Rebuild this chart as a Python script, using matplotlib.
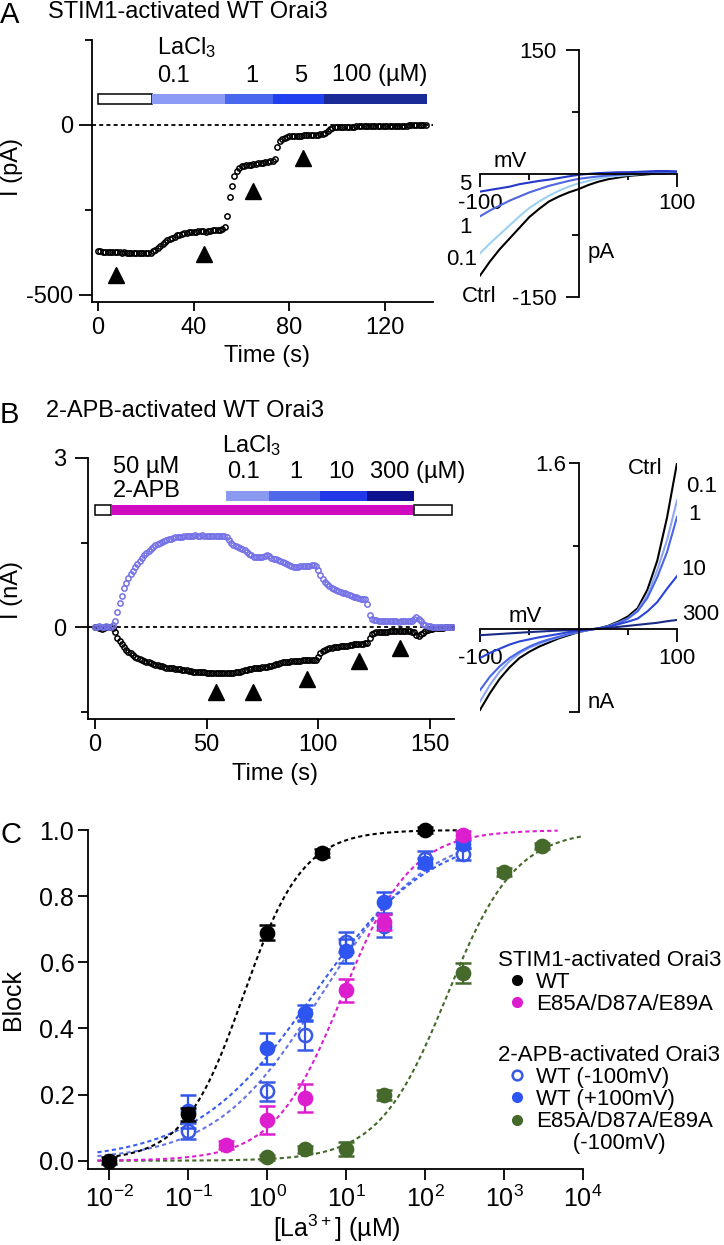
import numpy as np
import matplotlib
matplotlib.use('Agg')
import matplotlib.pyplot as plt
from matplotlib.lines import Line2D
from matplotlib.ticker import NullLocator

plt.rcParams['font.family'] = ['Liberation Sans', 'DejaVu Sans']
plt.rcParams['mathtext.fontset'] = 'custom'
plt.rcParams['mathtext.rm'] = 'Liberation Sans'
plt.rcParams['mathtext.it'] = 'Liberation Sans:italic'
plt.rcParams['mathtext.bf'] = 'Liberation Sans:bold'
plt.rcParams['axes.unicode_minus'] = False
plt.rcParams['axes.linewidth'] = 1.3

# ---------------- Panel A data ----------------
current_a = [-370, -372, -373, -373, -374, -374, -375, -374, -375, -375, -376, -375, -376, -376, -376, -377,
             -376, -377, -377, -376, -377, -377, -376,
             -372, -368, -362, -355, -349, -344, -339, -335, -331, -328, -325, -323, -321, -319, -318, -316,
             -315, -314, -314, -313, -313, -312, -315, -312, -311, -310, -309, -309, -308, -307, -300,
             -268, -213, -178, -150, -135, -127,
             -122, -120, -119, -118, -117, -115, -114, -113, -112, -111, -110, -109, -107, -105, -100,
             -64, -48, -40, -37, -35,
             -33, -33, -32, -32, -31, -31, -30, -30, -30, -29, -29, -28, -28, -27, -27, -24,
             -18, -12, -9, -7,
             -6, -6, -6, -5, -5, -5, -5, -5, -4, -4,
             -4, -4, -4, -4, -4, -3, -3, -3, -3, -3,
             -3, -3, -3, -2, -2, -2, -2, -2, -2, -2,
             -1, -1, -1, -1, -1, -1, 0, 0]
sample_interval_a = 1.0  # s
arrow_time_a = [7.4, 44.4, 65.0, 85.5]
arrow_level_a = [-441, -380, -193, -96]
la_edges_a = [0, 22.6, 53.0, 73.0, 94.5, 137.5]
la_colors_a = ['white', '#8c9cf6', '#4a68ee', '#2040f0', '#1a2b98']
la_labels_a = ['0.1', '1', '5', '100 (µM)']

iv_mv = [-100, -90, -80, -70, -60, -50, -40, -30, -20, -10, 0, 10, 20, 30, 40, 50, 60, 70, 80, 90, 100]
iv_a_ctrl = [-124, -107, -92, -79, -66, -53, -43, -34, -28, -23, -19, -14, -10, -7, -5, -3, -2, -1, 0, 0.5, 1]
iv_a_01 = [-97, -85, -74, -63, -52, -42, -34, -27, -21, -16, -12, -9, -6, -4, -3, -2, -1, 0, 0, 1, 1]
iv_a_1 = [-52, -45, -39, -33, -28, -23, -19, -15, -12, -9, -6.5, -5, -3.5, -2.5, -1.5, -1, 0, 0.5, 1, 1.5, 2]
iv_a_5 = [-22, -20, -18, -16, -13, -11, -9, -7.5, -5.5, -3.5, -1.6, -0.5, 0.5, 1, 1.5, 1.6, 2, 2.5, 3, 3, 2.5]

# ---------------- Panel B data ----------------
outward_b = [0.00, 0.00, 0.01, 0.00, 0.00, 0.01, 0.00, 0.00, 0.03, 0.10,
             0.27, 0.43, 0.55, 0.69, 0.78, 0.87, 0.94, 1.00, 1.06, 1.11,
             1.17, 1.22, 1.27, 1.31, 1.35, 1.39, 1.42, 1.45, 1.47, 1.49,
             1.51, 1.53, 1.55, 1.56, 1.57, 1.58, 1.59, 1.59, 1.60, 1.60,
             1.61, 1.61, 1.62, 1.62, 1.62, 1.63, 1.62, 1.62, 1.63, 1.62,
             1.62, 1.62, 1.61, 1.62, 1.61, 1.61, 1.62, 1.61, 1.61, 1.60,
             1.55, 1.50, 1.46, 1.44, 1.42, 1.40, 1.38, 1.36, 1.33, 1.30,
             1.27, 1.25, 1.24, 1.24, 1.24, 1.25, 1.26, 1.28, 1.26, 1.23,
             1.21, 1.20, 1.19, 1.18, 1.16, 1.14, 1.12, 1.10, 1.08, 1.07,
             1.07, 1.07, 1.08, 1.08, 1.08, 1.09, 1.09, 1.10, 1.10, 1.09,
             1.02, 0.93, 0.86, 0.80, 0.76, 0.73, 0.70, 0.68, 0.66, 0.64,
             0.62, 0.61, 0.60, 0.58, 0.56, 0.55, 0.54, 0.53, 0.52, 0.50,
             0.49, 0.50, 0.40, 0.22, 0.15, 0.13, 0.12, 0.11, 0.11, 0.10,
             0.10, 0.10, 0.10, 0.10, 0.10, 0.10, 0.09, 0.10, 0.10, 0.10,
             0.10, 0.11, 0.11, 0.14, 0.18, 0.15, 0.10, 0.06, 0.03, 0.02,
             0.01, 0.00, 0.00, 0.00, 0.00, 0.00, 0.00, 0.00, 0.00, 0.00, 0.00]
inward_b = [0.00, 0.00, -0.01, -0.04, -0.02, 0.00, 0.00, 0.00, -0.02, -0.08,
            -0.19, -0.25, -0.30, -0.36, -0.40, -0.44, -0.47, -0.50, -0.53, -0.55,
            -0.57, -0.59, -0.60, -0.62, -0.63, -0.64, -0.66, -0.67, -0.68, -0.69,
            -0.70, -0.71, -0.72, -0.72, -0.73, -0.73, -0.74, -0.75, -0.75, -0.76,
            -0.77, -0.77, -0.78, -0.78, -0.79, -0.79, -0.79, -0.80, -0.80, -0.80,
            -0.81, -0.81, -0.81, -0.82, -0.82, -0.82, -0.82, -0.82, -0.82, -0.82,
            -0.82, -0.81, -0.81, -0.80, -0.80, -0.79, -0.78, -0.77, -0.76, -0.75,
            -0.74, -0.73, -0.73, -0.72, -0.72, -0.71, -0.71, -0.71, -0.70, -0.69,
            -0.67, -0.66, -0.65, -0.64, -0.63, -0.63, -0.62, -0.62, -0.61, -0.61,
            -0.60, -0.60, -0.60, -0.59, -0.59, -0.59, -0.59, -0.58, -0.58, -0.58,
            -0.54, -0.47, -0.43, -0.41, -0.39, -0.38, -0.37, -0.36, -0.35, -0.35,
            -0.34, -0.34, -0.33, -0.33, -0.32, -0.32, -0.31, -0.31, -0.30, -0.30,
            -0.30, -0.29, -0.29, -0.20, -0.13, -0.10, -0.09, -0.09, -0.08, -0.08,
            -0.08, -0.08, -0.07, -0.07, -0.07, -0.07, -0.07, -0.07, -0.07, -0.07,
            -0.07, -0.07, -0.08, -0.09, -0.14, -0.16, -0.13, -0.10, -0.07, -0.05,
            -0.04, -0.03, -0.02, -0.02, -0.01, -0.01, -0.01, 0.00, 0.00, 0.00, 0.00]
sample_interval_b = 1.0
arrow_time_b = [54.2, 70.8, 95.0, 118.3, 136.6]
arrow_level_b = [-1.15, -1.15, -0.92, -0.60, -0.37]
apb_edges_b = [0, 7, 143, 160]
apb_colors_b = ['white', '#cf0cbf', 'white']
la_edges_b = [58.6, 77.8, 100.7, 122.0, 143.0]
la_colors_b = ['#8a9af0', '#4f6ae8', '#2238e8', '#0d138f']
la_labels_b = ['0.1', '1', '10', '300 (µM)']

iv_b_ctrl = [-0.78, -0.62, -0.48, -0.37, -0.28, -0.22, -0.17, -0.13, -0.09, -0.06, -0.03, -0.01, 0.005, 0.03, 0.07, 0.12, 0.20, 0.38, 0.66, 1.08, 1.60]
iv_b_01 = [-0.70, -0.54, -0.41, -0.31, -0.235, -0.18, -0.145, -0.11, -0.08, -0.05, -0.03, -0.01, 0.005, 0.025, 0.06, 0.10, 0.18, 0.33, 0.57, 0.86, 1.24]
iv_b_1 = [-0.59, -0.46, -0.36, -0.28, -0.22, -0.17, -0.13, -0.10, -0.074, -0.05, -0.025, -0.01, 0.005, 0.025, 0.055, 0.10, 0.17, 0.30, 0.50, 0.745, 1.08]
iv_b_10 = [-0.28, -0.23, -0.19, -0.15, -0.12, -0.10, -0.08, -0.064, -0.048, -0.03, -0.016, -0.005, 0.005, 0.02, 0.045, 0.07, 0.10, 0.17, 0.26, 0.39, 0.51]
iv_b_300 = [-0.06, -0.054, -0.048, -0.042, -0.036, -0.03, -0.025, -0.02, -0.015, -0.012, -0.008, -0.003, 0.003, 0.01, 0.02, 0.03, 0.04, 0.05, 0.06, 0.075, 0.087]

# ---------------- Panel C data ----------------
conc_stim_wt = [0.01, 0.1, 1, 5, 100]
block_stim_wt = [0.0, 0.14, 0.69, 0.93, 1.0]
err_stim_wt = [0.01, 0.02, 0.022, 0.012, 0.008]

conc_stim_mut = [0.3, 1, 3, 10, 30, 300]
block_stim_mut = [0.048, 0.123, 0.19, 0.515, 0.722, 0.985]
err_stim_mut = [0.012, 0.043, 0.042, 0.035, 0.025, 0.012]

conc_apb_wt = [0.1, 1, 3, 10, 30, 100, 300]
block_apb_wt_neg = [0.09, 0.21, 0.38, 0.662, 0.71, 0.911, 0.927]
err_apb_wt_neg = [0.024, 0.028, 0.045, 0.03, 0.035, 0.024, 0.018]
block_apb_wt_pos = [0.15, 0.34, 0.447, 0.634, 0.782, 0.90, 0.958]
err_apb_wt_pos = [0.05, 0.047, 0.023, 0.035, 0.032, 0.015, 0.012]

conc_apb_mut = [1, 3, 10, 30, 300, 1000, 3000]
block_apb_mut = [0.01, 0.034, 0.036, 0.20, 0.567, 0.874, 0.952]
err_apb_mut = [0.008, 0.01, 0.022, 0.015, 0.03, 0.012, 0.01]

# Hill fit parameters: (IC50 uM, Hill coefficient, log10 range start, log10 range end)
fit_stim_wt = (0.5, 1.15, -2.0, 2.48)
fit_stim_mut = (9.0, 1.0, -2.15, 3.68)
fit_apb_wt_neg = (4.8, 0.65, -2.15, 2.48)
fit_apb_wt_pos = (3.8, 0.58, -2.15, 2.48)
fit_apb_mut = (190.0, 1.0, -2.15, 4.0)

c_black = 'black'
c_mag = '#dd1ecf'
c_blue = '#2f55f0'
c_blue_open = '#3a5ae6'
c_green = '#44692a'

FS = 17      # main text size (panels A, B)
FS_IV = 16   # I-V insets
FS_C = 18    # panel C axes
FS_LEG = 16  # panel C legend

# ---------------- Figure ----------------
W, H = 724, 1245
fig = plt.figure(figsize=(W / 100, H / 100), dpi=100)
fig.patch.set_facecolor('white')


def axes_px(l, t, r, b):
    return fig.add_axes([l / W, 1 - b / H, (r - l) / W, (b - t) / H])


def ftext(x, y, s, size=FS, ha='left', va='baseline', **kw):
    return fig.text(x / W, 1 - y / H, s, fontsize=size, ha=ha, va=va, **kw)


def style_axes(ax):
    ax.spines['top'].set_visible(False)
    ax.spines['right'].set_visible(False)
    ax.set_facecolor('none')


# ===== Panel A : time course =====
axA = axes_px(92, 40, 433, 302)
style_axes(axA)
axA.set_xlim(-2.51, 140.05)
axA.set_ylim(-520.6, 250)
time_a = np.arange(len(current_a)) * sample_interval_a
axA.axhline(0, color='black', lw=1.3, ls=(0, (2.2, 1.8)), zorder=1)
axA.plot(time_a, current_a, 'o', ms=3.8, mfc='none', mec='black', mew=1.1, zorder=3)
axA.plot(arrow_time_a, arrow_level_a, '^', color='black', ms=11, zorder=3)
bar_y_a, bar_h_a = 75.5, 29
axA.barh(bar_y_a, la_edges_a[1] - la_edges_a[0], left=la_edges_a[0], height=bar_h_a,
         color='white', edgecolor='black', linewidth=1.1, clip_on=False)
axA.barh([bar_y_a] * 4, np.diff(la_edges_a[1:]), left=la_edges_a[1:-1], height=bar_h_a,
         color=la_colors_a[1:], edgecolor='none', clip_on=False)
axA.set_yticks([0, -500])
axA.set_yticklabels(['0', '-500'])
axA.set_yticks([250, -250], minor=True)
axA.set_xticks([0, 40, 80, 120])
axA.set_xticklabels(['0', '40', '80', '120'])
axA.tick_params(axis='y', which='major', direction='out', length=9.5, width=1.3, pad=4, labelsize=FS)
axA.tick_params(axis='y', which='minor', direction='out', length=5, width=1.3)
axA.tick_params(axis='x', which='major', direction='out', length=6.5, width=1.3, pad=4, labelsize=FS)

ftext(0, 23, 'A', size=21)
ftext(48, 18, 'STIM1-activated WT Orai3')
ftext(157, 54, 'LaCl$_3$')
ftext(157, 81.5, la_labels_a[0])
ftext(252, 81.5, la_labels_a[1], ha='center')
ftext(301, 81.5, la_labels_a[2], ha='center')
ftext(332, 81.5, la_labels_a[3])
fig.text(12 / W, 1 - 167 / H, 'I (pA)', fontsize=FS, rotation=90, ha='center', va='center')
ftext(267, 362, 'Time (s)', ha='center')

# ===== Panel A : I-V =====
axAi = axes_px(480, 50, 677, 297)
axAi.set_xlim(-100, 100)
axAi.set_ylim(-150, 150)
style_axes(axAi)
axAi.spines['left'].set_position(('data', 0))
axAi.spines['bottom'].set_position(('data', 0))
for vals, col in [(iv_a_ctrl, 'black'), (iv_a_01, '#9fd0f2'), (iv_a_1, '#4f66e0'), (iv_a_5, '#2438c8')]:
    axAi.plot(iv_mv, vals, color=col, lw=1.5)
axAi.set_yticks([150, -150])
axAi.set_yticklabels(['150', '-150'])
axAi.set_yticks([75, -75], minor=True)
axAi.set_xticks([-100, 100])
axAi.set_xticklabels(['-100', '100'])
axAi.set_xticks([-50, 50], minor=True)
axAi.tick_params(axis='y', which='major', direction='out', length=9.5, width=1.3, pad=6, labelsize=FS_IV)
axAi.tick_params(axis='y', which='minor', direction='out', length=5, width=1.3)
axAi.tick_params(axis='x', which='major', direction='out', length=9, width=1.3, pad=5, labelsize=FS_IV)
axAi.tick_params(axis='x', which='minor', direction='out', length=4.5, width=1.3)
ftext(510, 166.7, 'mV', size=FS_IV, ha='center')
ftext(588, 258, 'pA', size=FS_IV)
ftext(471, 190, '5', size=FS_IV, ha='right')
ftext(472, 233, '1', size=FS_IV, ha='right')
ftext(477, 265, '0.1', size=FS_IV, ha='right')
ftext(462, 301.7, 'Ctrl', size=FS_IV)

# ===== Panel B : time course =====
axB = axes_px(88, 458, 454, 719)
style_axes(axB)
axB.set_xlim(-3.13, 160.8)
axB.set_ylim(-1.633, 3.0)
time_b = np.arange(len(inward_b)) * sample_interval_b
axB.axhline(0, color='black', lw=1.3, ls=(0, (2.2, 1.8)), zorder=1)
axB.plot(time_b, inward_b, 'o', ms=3.8, mfc='none', mec='black', mew=1.1, zorder=3)
axB.plot(time_b, outward_b, 'o', ms=3.8, mfc='none', mec='#7472e6', mew=1.1, zorder=4)
axB.plot(arrow_time_b, arrow_level_b, '^', color='black', ms=11, zorder=3)
apb_y, la_y, bh = 2.077, 2.326, 0.178
axB.barh([apb_y] * 3, np.diff(apb_edges_b), left=apb_edges_b[:-1], height=bh,
         color=apb_colors_b, edgecolor=['black', 'none', 'black'], linewidth=1.1, clip_on=False)
axB.barh([la_y] * 4, np.diff(la_edges_b), left=la_edges_b[:-1], height=bh,
         color=la_colors_b, edgecolor='none', clip_on=False)
axB.set_yticks([3, 0])
axB.set_yticklabels(['3', '0'])
axB.set_yticks([1.5, -1.5], minor=True)
axB.set_xticks([0, 50, 100, 150])
axB.set_xticklabels(['0', '50', '100', '150'])
axB.tick_params(axis='y', which='major', direction='out', length=9.5, width=1.3, pad=6, labelsize=FS)
axB.tick_params(axis='y', which='minor', direction='out', length=5, width=1.3)
axB.tick_params(axis='x', which='major', direction='out', length=7, width=1.3, pad=4, labelsize=FS)

ftext(0, 423, 'B', size=21)
ftext(46, 417, '2-APB-activated WT Orai3')
ftext(113, 473, '50 µM')
ftext(113, 497, '2-APB')
ftext(222, 452, 'LaCl$_3$')
ftext(227, 478, la_labels_b[0])
ftext(296, 478, la_labels_b[1], ha='center')
ftext(341, 478, la_labels_b[2], ha='center')
ftext(370, 478, la_labels_b[3])
fig.text(12 / W, 1 - 590 / H, 'I (nA)', fontsize=FS, rotation=90, ha='center', va='center')
ftext(275, 780, 'Time (s)', ha='center')

# ===== Panel B : I-V =====
axBi = axes_px(480, 463, 677, 712)
axBi.set_xlim(-100, 100)
axBi.set_ylim(-0.8, 1.6)
style_axes(axBi)
axBi.spines['left'].set_position(('data', 0))
axBi.spines['bottom'].set_position(('data', 0))
for vals, col in [(iv_b_ctrl, 'black'), (iv_b_01, '#8fa6f0'), (iv_b_1, '#4866e6'),
                  (iv_b_10, '#2a45d6'), (iv_b_300, '#1b2a85')]:
    axBi.plot(iv_mv, vals, color=col, lw=1.5)
axBi.set_yticks([1.6, -0.8])
axBi.set_yticklabels(['1.6', ''])
axBi.set_yticks([0.8], minor=True)
axBi.set_xticks([-100, 100])
axBi.set_xticklabels(['-100', '100'])
axBi.set_xticks([-50, 50], minor=True)
axBi.tick_params(axis='y', which='major', direction='out', length=7, width=1.3, pad=2, labelsize=FS_IV)
axBi.tick_params(axis='y', which='minor', direction='out', length=4, width=1.3)
axBi.tick_params(axis='x', which='major', direction='out', length=9, width=1.3, pad=5, labelsize=FS_IV)
axBi.tick_params(axis='x', which='minor', direction='out', length=4.5, width=1.3)
ftext(525, 621.7, 'mV', size=FS_IV, ha='center')
ftext(588, 708, 'nA', size=FS_IV)
ftext(645, 474, 'Ctrl', size=FS_IV, ha='center')
ftext(686, 491.7, '0.1', size=FS_IV)
ftext(695, 520, '1', size=FS_IV, ha='center')
ftext(681, 575, '10', size=FS_IV)
ftext(682, 620, '300', size=FS_IV)

# ===== Panel C : dose-response =====
axC = axes_px(87.5, 830, 583, 1169)
style_axes(axC)
axC.set_xscale('log')
axC.set_xlim(10 ** -2.276, 10 ** 3.996)
axC.set_ylim(-0.025, 1.0)


def hill_curve(ax, params, color):
    ic50, n, lo, hi = params
    xs = np.logspace(lo, hi, 300)
    ys = 1.0 / (1.0 + (ic50 / xs) ** n)
    ax.plot(xs, ys, color=color, lw=1.5, ls=(0, (2.0, 1.5)), clip_on=False, zorder=2)


hill_curve(axC, fit_apb_mut, c_green)
hill_curve(axC, fit_apb_wt_neg, '#6876e4')
hill_curve(axC, fit_apb_wt_pos, '#3a5cf0')
hill_curve(axC, fit_stim_mut, c_mag)
hill_curve(axC, fit_stim_wt, c_black)


def eb(ax, x, y, e, color, filled=True, z=3):
    cont = ax.errorbar(x, y, yerr=e, fmt='o', ms=9.5, color=color,
                       mfc=color if filled else 'white', mec=color, mew=1.8,
                       elinewidth=1.6, capsize=5.5, capthick=1.6, zorder=z)
    for a in [cont[0], *cont[1], *cont[2]]:
        a.set_clip_on(False)
        a.set_zorder(z)


eb(axC, conc_apb_mut, block_apb_mut, err_apb_mut, c_green, z=3)
eb(axC, conc_apb_wt, block_apb_wt_neg, err_apb_wt_neg, c_blue_open, filled=False, z=4)
eb(axC, conc_apb_wt, block_apb_wt_pos, err_apb_wt_pos, c_blue, z=5)
eb(axC, conc_stim_mut, block_stim_mut, err_stim_mut, c_mag, z=6)
eb(axC, conc_stim_wt, block_stim_wt, err_stim_wt, c_black, z=7)

block_ticks = [0.0, 0.2, 0.4, 0.6, 0.8, 1.0]
block_ticklabels = ['0.0', '0.2', '0.4', '0.6', '0.8', '1.0']
conc_ticks = [1e-2, 1e-1, 1e0, 1e1, 1e2, 1e3, 1e4]
conc_ticklabels = ['$10^{-2}$', '$10^{-1}$', '$10^{0}$', '$10^{1}$', '$10^{2}$', '$10^{3}$', '$10^{4}$']
axC.set_yticks(block_ticks)
axC.set_yticklabels(block_ticklabels)
axC.set_xticks(conc_ticks)
axC.set_xticklabels(conc_ticklabels)
axC.xaxis.set_minor_locator(NullLocator())
axC.tick_params(axis='y', which='major', direction='out', length=7.5, width=1.3, pad=2, labelsize=FS_C)
axC.tick_params(axis='x', which='major', direction='out', length=8, width=1.3, pad=4, labelsize=FS_C)

ftext(0, 843, 'C', size=21)
fig.text(13 / W, 1 - 1000 / H, 'Block', fontsize=FS_C, rotation=90, ha='center', va='center')
ftext(337, 1237, '[La$^{3+}$] (µM)', size=FS_C, ha='center')

legend_kw = dict(loc='upper left', bbox_transform=fig.transFigure, frameon=False,
                 fontsize=FS_LEG, title_fontsize=FS_LEG, alignment='left', handlelength=1.75,
                 handletextpad=0.0, borderpad=0, borderaxespad=0, labelspacing=0.05)
h1 = [Line2D([], [], marker='o', ls='none', color=c_black, ms=7),
      Line2D([], [], marker='o', ls='none', color=c_mag, ms=7)]
leg1 = axC.legend(h1, ['WT', 'E85A/D87A/E89A'], title='STIM1-activated Orai3',
                  bbox_to_anchor=(497.5 / W, 1 - 950 / H), **legend_kw)
axC.add_artist(leg1)
h2 = [Line2D([], [], marker='o', ls='none', color=c_blue_open, mfc='white', mew=1.8, ms=7),
      Line2D([], [], marker='o', ls='none', color=c_blue, ms=7),
      Line2D([], [], marker='o', ls='none', color=c_green, ms=7),
      Line2D([], [], ls='none')]
leg2 = axC.legend(h2, ['WT (-100mV)', 'WT (+100mV)', 'E85A/D87A/E89A', '      (-100mV)'],
                  title='2-APB-activated Orai3',
                  bbox_to_anchor=(497.5 / W, 1 - 1045 / H), **legend_kw)

fig.savefig('out.png', dpi=100, facecolor='white')
